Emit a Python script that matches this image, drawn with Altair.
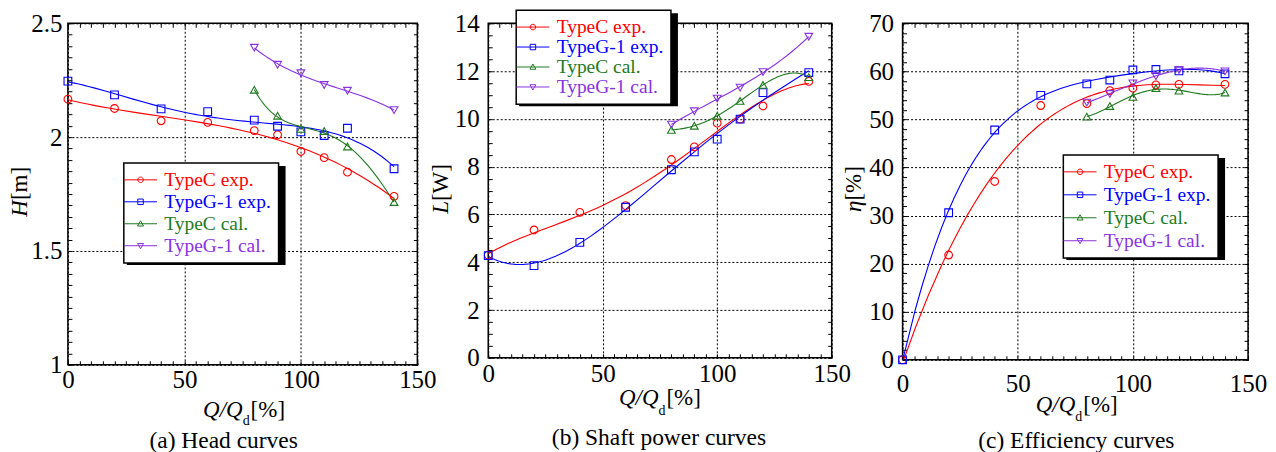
import altair as alt
import pandas as pd

FONT = "Liberation Serif"

SERIES = ["TypeC exp.", "TypeG-1 exp.", "TypeC cal.", "TypeG-1 cal."]
COLORS = ["#ff0000", "#0000ff", "#1f7a1f", "#8833dd"]
MARKERS = ["circle", "square", "triangle-up", "triangle-down"]

Q_EXP = [0, 20, 40, 60, 80, 90, 100, 110, 120, 140]
Q_CAL = [80, 90, 100, 110, 120, 140]

# (a) head H [m]
H_C_EXP = [2.167, 2.126, 2.072, 2.065, 2.029, 2.010, 1.937, 1.910, 1.846, 1.740]
H_G_EXP = [2.246, 2.186, 2.124, 2.112, 2.075, 2.048, 2.023, 2.007, 2.039, 1.861]
H_C_CAL = [2.208, 2.094, 2.036, 2.027, 1.959, 1.715]
H_G_CAL = [2.393, 2.318, 2.281, 2.229, 2.204, 2.119]

# (b) shaft power L [W]
L_C_EXP = [4.30, 5.35, 6.09, 6.37, 8.30, 8.83, 9.82, 9.99, 10.54, 11.57]
L_G_EXP = [4.28, 3.86, 4.83, 6.30, 7.87, 8.62, 9.15, 9.99, 11.10, 11.94]
L_C_CAL = [9.54, 9.71, 10.13, 10.75, 11.42, 11.75]
L_G_CAL = [9.76, 10.32, 10.85, 11.31, 11.96, 13.44]

# (c) efficiency eta [%]
E_C_EXP = [0, 21.8, 37.1, 52.9, 53.3, 56.0, 56.5, 57.2, 57.3, 57.3]
E_G_EXP = [0, 30.6, 47.8, 55.0, 57.4, 58.2, 60.3, 60.4, 60.1, 59.5]
E_C_CAL = [50.6, 52.8, 54.7, 56.5, 56.0, 55.6]
E_G_CAL = [53.5, 55.3, 57.5, 59.0, 60.3, 60.0]

# legend symbols: line + marker
LEG_PATHS = [
    "M-3.3,0L3.3,0M0.55,0A0.55,0.55,0,1,1,-0.55,0A0.55,0.55,0,1,1,0.55,0",
    "M-3.3,0L3.3,0M-0.55,-0.55L0.55,-0.55L0.55,0.55L-0.55,0.55Z",
    "M-3.3,0L3.3,0M0,-0.6L0.6,0.45L-0.6,0.45Z",
    "M-3.3,0L3.3,0M0,0.6L0.6,-0.45L-0.6,-0.45Z",
]

T = 4  # inward tick length
TICK_FS = 25
LEG_FS = 19.5
LEG_W = 159      # legend box size used for its drop shadow
LEG_ROW = 20.5
ONE = pd.DataFrame({"k": [0]})

label_color_expr = " : ".join(
    f"datum.value === '{s}' ? '{c}'" for s, c in zip(SERIES, COLORS)
) + " : 'black'"

cscale = alt.Scale(domain=SERIES, range=COLORS)
sscale = alt.Scale(domain=SERIES, range=LEG_PATHS)


def make_df(ys):
    rows = []
    for s, y in zip(SERIES, ys):
        xs = Q_EXP if len(y) == len(Q_EXP) else Q_CAL
        for xv, yv in zip(xs, y):
            rows.append({"x": xv, "y": yv, "series": s})
    return pd.DataFrame(rows)


def txt(text, x, y, size=23, italic=False, align="left", angle=0):
    kw = dict(text=text, font=FONT, fontSize=size, align=align,
              baseline="alphabetic", color="black")
    if italic:
        kw["fontStyle"] = "italic"
    if angle:
        kw["angle"] = angle
    return alt.Chart(ONE).mark_text(**kw).encode(x=alt.value(x), y=alt.value(y))


def panel(ys, w, h, ydom, yvals, ymajor, ylabel, orders, xlabpad, ylabpad,
          legxy, rowpad, xt, yt, ytitle, cap):
    df = make_df(ys)
    xvals = list(range(0, 151, 5))
    xmajor = "datum.value % 50 === 0"
    xaxis = alt.Axis(orient="bottom", values=xvals, offset=-T, tickSize=T,
                     tickColor="black", tickWidth=1, domain=False,
                     labelExpr=f"{xmajor} ? toString(datum.value) : ''",
                     labelFont=FONT, labelFontSize=TICK_FS, labelColor="black",
                     labelPadding=xlabpad, labelFlush=False, labelOverlap=False,
                     grid=True, gridColor="black", gridDash=[2, 2], gridWidth=1,
                     gridOpacity={"condition": {"test": xmajor, "value": 1}, "value": 0},
                     title=None)
    yaxis = alt.Axis(orient="left", values=yvals, offset=-T, tickSize=T,
                     tickColor="black", tickWidth=1, domain=False,
                     labelExpr=f"({ymajor}) ? {ylabel} : ''",
                     labelFont=FONT, labelFontSize=TICK_FS, labelColor="black",
                     labelPadding=ylabpad, labelFlush=False, labelOverlap=False,
                     grid=True, gridColor="black", gridDash=[2, 2], gridWidth=1,
                     gridOpacity={"condition": {"test": ymajor, "value": 1}, "value": 0},
                     title=None)
    xtop = alt.Axis(orient="top", values=xvals, offset=-T, tickSize=T,
                    tickColor="black", tickWidth=1, domain=False, labels=False,
                    grid=False, title=None)
    yright = alt.Axis(orient="right", values=yvals, offset=-T, tickSize=T,
                      tickColor="black", tickWidth=1, domain=False, labels=False,
                      grid=False, title=None)
    xscale = alt.Scale(domain=[0, 150], nice=False, zero=False)
    yscale = alt.Scale(domain=ydom, nice=False, zero=False)

    X = alt.X("x:Q", scale=xscale, axis=xaxis)
    Y = alt.Y("y:Q", scale=yscale, axis=yaxis)

    layers = []
    for s, col, od in zip(SERIES, COLORS, orders):
        base = alt.Chart(df).transform_filter(f"datum.series === '{s}'")
        layers.append(
            base.transform_regression("x", "y", method="poly", order=od)
            .mark_line(strokeWidth=1.1, clip=True, color=col)
            .encode(x=X, y=Y)
        )
    for s, col, mk in zip(SERIES, COLORS, MARKERS):
        base = alt.Chart(df).transform_filter(f"datum.series === '{s}'")
        layers.append(
            base.mark_point(shape=mk, filled=False, size=60, strokeWidth=1.1,
                            opacity=1, color=col)
            .encode(x=X, y=Y)
        )
    main = alt.layer(*layers)

    leg = alt.Legend(title=None, orient="none", legendX=legxy[0], legendY=legxy[1],
                     fillColor="white", strokeColor="black", padding=7,
                     labelFont=FONT, labelFontSize=LEG_FS,
                     labelColor={"expr": label_color_expr},
                     symbolSize=100, symbolStrokeWidth=1, symbolOpacity=1,
                     labelOffset=14, rowPadding=rowpad, labelLimit=300)
    frame = (
        alt.Chart(df).transform_filter("false")
        .mark_point(filled=False, strokeWidth=1)
        .encode(
            x=alt.X("x:Q", scale=xscale, axis=xtop),
            y=alt.Y("y:Q", scale=yscale, axis=yright),
            color=alt.Color("series:N", scale=cscale, legend=leg),
            shape=alt.Shape("series:N", scale=sscale, legend=leg),
        )
    )

    # drop shadow behind the legend box
    leg_h = 4 * LEG_ROW + 3 * rowpad + 14
    shadow = alt.Chart(ONE).mark_rect(color="black").encode(
        x=alt.value(legxy[0] + 3), x2=alt.value(legxy[0] + 3 + LEG_W),
        y=alt.value(legxy[1] + 3), y2=alt.value(legxy[1] + 3 + leg_h),
    )

    cx, xb, db = xt
    texts = [
        txt("Q/Q", cx, h + xb, italic=True, align="right"),
        txt("d", cx, h + xb + db, size=14),
        txt("[%]", cx + 8, h + xb),
        txt(ytitle[0], yt[0], yt[1], italic=True, align="right", angle=270),
        txt(ytitle[1], yt[0], yt[1], align="left", angle=270),
        txt(cap[0], cap[1], h + cap[2], size=23.5, align="center"),
    ]
    return (
        alt.layer(main, shadow, frame, *texts)
        .resolve_axis(x="independent", y="independent")
        .properties(width=w, height=h)
    )


pa = panel([H_C_EXP, H_G_EXP, H_C_CAL, H_G_CAL], 350, 342, [1, 2.5],
           [round(1 + 0.05 * i, 2) for i in range(31)],
           "abs(datum.value*2 - round(datum.value*2)) < 0.001",
           "toString(round(datum.value*2)/2)",
           [3, 4, 4, 3], 2.5, 6, (56, 140), 1,
           (175, 52, 8), (-41, 177), ("H", "[m]"), ("(a) Head curves", 156, 83))

pb = panel([L_C_EXP, L_G_EXP, L_C_CAL, L_G_CAL], 344, 335, [0, 14],
           [0.5 * i for i in range(29)],
           "datum.value % 2 === 0",
           "toString(datum.value)",
           [4, 4, 4, 3], 4, 9, (28, -13), -1,
           (170.5, 47, 10), (-40, 178), ("L", "[W]"), ("(b) Shaft power curves", 171, 87))

pc = panel([E_C_EXP, E_G_EXP, E_C_CAL, E_G_CAL], 346, 337, [0, 70],
           [2 * i for i in range(36)],
           "datum.value % 10 === 0",
           "toString(datum.value)",
           [3, 4, 4, 3], 12, 9, (161, 132), 2,
           (173, 52, 9), (-42, 177.5), ("\u03b7", "[%]"), ("(c) Efficiency curves", 174, 88))

chart = (
    alt.hconcat(pa, pb, pc, spacing=71, bounds="flush")
    .resolve_scale(color="independent", shape="independent")
    .resolve_legend(color="independent", shape="independent")
    .properties(padding={"left": 0, "top": 0, "right": 0, "bottom": 0})
    .configure_view(stroke="black", strokeWidth=1.5)
    .configure_legend(strokeWidth=1.5)
)

chart.save("out.html", embed_options={"renderer": "svg", "actions": False})
